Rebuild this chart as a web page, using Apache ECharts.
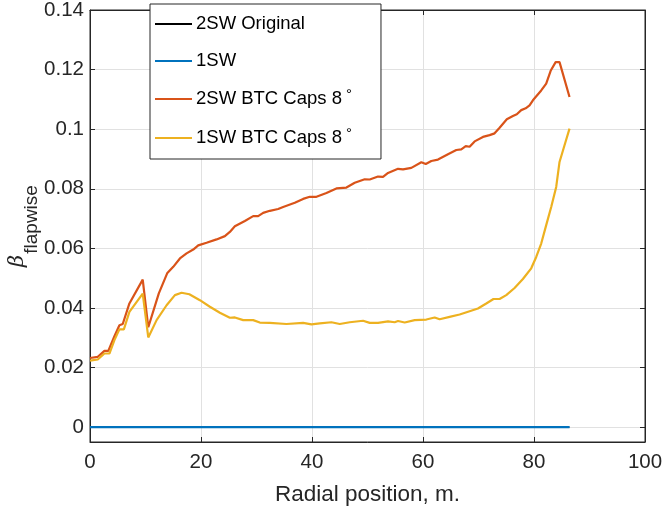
<!DOCTYPE html>
<html>
<head>
<meta charset="utf-8">
<script src="https://cdn.jsdelivr.net/npm/echarts@6/dist/echarts.min.js"></script>
<style>html,body{margin:0;padding:0;background:#fff}#c{width:663px;height:509px}</style>
</head>
<body>
<div id="c"></div>
<script>
var seriesNames = ['2SW Original', '1SW', '2SW BTC Caps 8°', '1SW BTC Caps 8°'];

var radialBase = [0, 86.4];
var beta2SWOriginal = [0, 0];
var beta1SW = [0, 0];

var radial2SWCaps = [0,1.4,2.6,3.3,4.4,5.3,5.9,7.1,9.5,10.5,12.4,13.9,15.0,16.2,17.4,18.6,19.5,21.0,22.8,24.3,25.2,26.1,27.9,29.4,30.3,31.2,32.4,33.9,34.8,36.9,38.4,39.6,40.8,42.6,44.4,46.2,47.7,49.5,50.4,51.9,52.8,53.7,55.5,56.4,57.9,59.7,60.5,61.5,62.7,64.5,66.0,66.9,67.7,68.4,69.3,70.8,72.0,72.9,73.8,75.1,76.2,76.9,77.7,78.5,79.2,79.8,81.3,82.2,83.0,83.9,84.6,86.4];
var beta2SWCaps = [0.0232,0.0236,0.0256,0.0256,0.0305,0.0342,0.0346,0.0415,0.0495,0.0335,0.0449,0.0516,0.0538,0.0566,0.0583,0.0596,0.061,0.0619,0.063,0.0641,0.0655,0.0674,0.0692,0.0708,0.0708,0.0719,0.0726,0.0732,0.0739,0.0753,0.0766,0.0773,0.0773,0.0786,0.0801,0.0804,0.082,0.0832,0.0831,0.0841,0.084,0.0853,0.0867,0.0865,0.087,0.0889,0.0883,0.0893,0.0898,0.0916,0.093,0.0932,0.0943,0.0941,0.0959,0.0974,0.098,0.0986,0.1005,0.1033,0.1044,0.105,0.1064,0.107,0.108,0.1097,0.113,0.1153,0.1196,0.1225,0.1225,0.1108];

var radial1SWCaps = [0,1.4,2.6,3.5,4.4,5.3,6.1,7.1,9.5,10.5,12.0,13.8,15.3,16.5,17.9,19.8,21.6,23.4,25.2,26.1,27.6,29.4,30.6,32.4,35.4,38.4,39.9,41.4,43.5,45.0,46.8,49.2,50.4,51.9,53.7,54.9,55.5,56.7,58.5,60.6,62.1,63.0,64.8,66.6,68.4,69.9,71.4,72.7,73.8,75.0,76.5,78.0,79.5,80.4,81.3,82.2,83.1,84.0,84.6,85.5,86.4];
var beta1SWCaps = [0.0223,0.0227,0.0247,0.0247,0.0292,0.0328,0.0328,0.0387,0.0448,0.0301,0.0359,0.0409,0.0443,0.0451,0.0446,0.0426,0.0404,0.0384,0.0367,0.0368,0.0359,0.0359,0.0351,0.035,0.0346,0.035,0.0345,0.0348,0.0352,0.0346,0.0352,0.0357,0.035,0.035,0.0355,0.0352,0.0356,0.0351,0.0359,0.0361,0.0368,0.0362,0.037,0.0378,0.0389,0.0398,0.0415,0.043,0.043,0.0443,0.0467,0.0497,0.0533,0.0571,0.0616,0.0678,0.0739,0.0806,0.089,0.0946,0.1002];

var yTicks = [0, 0.02, 0.04, 0.06, 0.08, 0.1, 0.12, 0.14];
var xTicks = [0, 20, 40, 60, 80, 100];

function pairs(xs, ys) { return xs.map(function (x, i) { return [x, ys[i]]; }); }

var FONT = '"Liberation Sans", Arial, Helvetica, sans-serif';
var AX = '#262626';
var GRIDC = '#e1e1e1';
var chart = echarts.init(document.getElementById('c'), null, {renderer: 'canvas'});
chart.setOption({
  animation: false,
  backgroundColor: '#fff',
  grid: {left: 90, right: 18, top: 10, bottom: 67, show: true, borderColor: AX, borderWidth: 1, containLabel: false, outerBoundsMode: 'none'},
  legend: {
    orient: 'vertical', left: 150, top: 4,
    data: seriesNames,
    icon: 'rect',
    itemWidth: 37, itemHeight: 2, itemGap: 15,
    padding: [9, 29, 9, 5],
    backgroundColor: '#fff', borderColor: AX, borderWidth: 1,
    formatter: function (name) { return name.replace('°', '{d|°}'); },
    textStyle: {fontFamily: FONT, fontSize: 18.5, color: '#000', lineHeight: 22, padding: [0, 0, 0, -1],
      rich: {d: {fontFamily: FONT, fontSize: 15, color: '#000', padding: [0, 0, 9, 4], lineHeight: 22}}}
  },
  xAxis: [{
    type: 'value', min: 0, max: 100, interval: 20,
    name: 'Radial position, m.', nameLocation: 'middle', nameGap: 41, nameMoveOverlap: false,
    nameTextStyle: {fontFamily: FONT, fontSize: 22.5, color: AX},
    axisLine: {show: true, onZero: false, lineStyle: {color: AX, width: 1}},
    axisTick: {show: true, inside: true, length: 5, lineStyle: {color: AX}},
    axisLabel: {fontFamily: FONT, fontSize: 20.5, color: AX, margin: 10},
    splitLine: {show: true, lineStyle: {color: GRIDC, width: 1}}
  }, {
    type: 'value', min: 0, max: 100, interval: 20, position: 'top',
    axisLine: {show: true, onZero: false, lineStyle: {color: AX, width: 1}},
    axisTick: {show: true, inside: true, length: 5, lineStyle: {color: AX}},
    axisLabel: {show: false}, splitLine: {show: false}
  }],
  yAxis: [{
    type: 'value', min: -0.005, max: 0.14,
    name: '{b|β}{s|flapwise}', nameLocation: 'middle', nameGap: 49, nameRotate: 90, nameMoveOverlap: false,
    nameTextStyle: {
      rich: {
        b: {fontFamily: '"DejaVu Serif", serif', fontStyle: 'italic', fontSize: 21, color: AX, verticalAlign: 'top', lineHeight: 34},
        s: {fontFamily: FONT, fontSize: 19, color: AX, verticalAlign: 'bottom', lineHeight: 34, padding: [0, 0, 0, 1]}
      }
    },
    axisLine: {show: true, onZero: false, lineStyle: {color: AX, width: 1}},
    axisTick: {show: true, inside: true, length: 5, lineStyle: {color: AX}, customValues: yTicks},
    axisLabel: {fontFamily: FONT, fontSize: 20.5, color: AX, margin: 6, customValues: yTicks,
      formatter: function (v) { return String(Math.round(v * 1000) / 1000); }},
    splitLine: {show: true, lineStyle: {color: GRIDC, width: 1}}
  }, {
    type: 'value', min: -0.005, max: 0.14, position: 'right',
    axisLine: {show: true, onZero: false, lineStyle: {color: AX, width: 1}},
    axisTick: {show: true, inside: true, length: 5, lineStyle: {color: AX}, customValues: yTicks},
    axisLabel: {show: false, customValues: yTicks}, splitLine: {show: false}
  }],
  series: [
    {name: seriesNames[0], type: 'line', data: pairs(radialBase, beta2SWOriginal), symbol: 'none', lineStyle: {color: '#000', width: 1}, itemStyle: {color: '#000'}, z: 2},
    {name: seriesNames[1], type: 'line', data: pairs(radialBase, beta1SW), symbol: 'none', lineStyle: {color: '#0072BD', width: 2.2}, itemStyle: {color: '#0072BD'}, z: 3},
    {name: seriesNames[2], type: 'line', data: pairs(radial2SWCaps, beta2SWCaps), symbol: 'none', lineStyle: {color: '#D95319', width: 2.2}, itemStyle: {color: '#D95319'}, z: 4},
    {name: seriesNames[3], type: 'line', data: pairs(radial1SWCaps, beta1SWCaps), symbol: 'none', lineStyle: {color: '#EDB120', width: 2.2}, itemStyle: {color: '#EDB120'}, z: 5}
  ]
});
</script>
</body>
</html>
